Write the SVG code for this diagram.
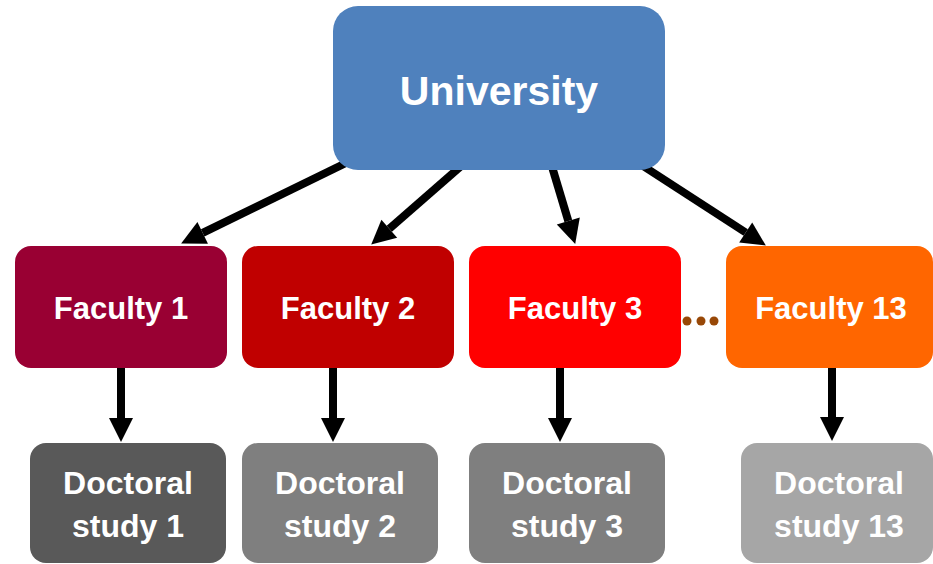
<svg xmlns="http://www.w3.org/2000/svg" width="933" height="564" viewBox="0 0 933 564">
<style>
  .lbl { font-family: "Liberation Sans", Arial, sans-serif; font-weight: bold; fill: #ffffff; text-anchor: middle; }
  .fac { font-size: 31px; }
  .doc { font-size: 32px; }
  .conn line { stroke: #000000; stroke-width: 8; stroke-linecap: butt; fill: none; }
</style>
<defs>
  <marker id="ah" markerUnits="userSpaceOnUse" markerWidth="24" markerHeight="26" refX="0" refY="13" orient="auto" overflow="visible">
    <path d="M0,1 L24,13 L0,25 z" fill="#000000"/>
  </marker>
</defs>
<rect x="0" y="0" width="933" height="564" fill="#ffffff"/>
<g id="connectors" class="conn">
  <line x1="350" y1="161" x2="202.7" y2="232.9" marker-end="url(#ah)"/>
  <line x1="460" y1="167" x2="389.3" y2="228.8" marker-end="url(#ah)"/>
  <line x1="550" y1="160" x2="568.3" y2="221" marker-end="url(#ah)"/>
  <line x1="640" y1="164" x2="745.7" y2="232.5" marker-end="url(#ah)"/>
  <line x1="121" y1="366" x2="121" y2="418" marker-end="url(#ah)"/>
  <line x1="333" y1="366" x2="333" y2="418" marker-end="url(#ah)"/>
  <line x1="560" y1="366" x2="560" y2="418" marker-end="url(#ah)"/>
  <line x1="832" y1="366" x2="832" y2="417" marker-end="url(#ah)"/>
</g>
<g id="university">
  <rect x="333" y="6" width="332" height="164" rx="25" ry="25" fill="#4F81BD"/>
  <text class="lbl" x="499" y="105" font-size="41">University</text>
</g>
<g id="faculty1">
  <rect x="15" y="246" width="212" height="122" rx="16" ry="16" fill="#990033"/>
  <text class="lbl fac" x="121" y="319">Faculty 1</text>
</g>
<g id="faculty2">
  <rect x="242" y="246" width="212" height="122" rx="16" ry="16" fill="#C00000"/>
  <text class="lbl fac" x="348" y="319">Faculty 2</text>
</g>
<g id="faculty3">
  <rect x="469" y="246" width="212" height="122" rx="16" ry="16" fill="#FF0000"/>
  <text class="lbl fac" x="575" y="319">Faculty 3</text>
</g>
<g id="ellipsis">
  <circle cx="687" cy="321" r="4.5" fill="#984807"/>
  <circle cx="701" cy="321" r="4.5" fill="#984807"/>
  <circle cx="714" cy="321" r="4.5" fill="#984807"/>
</g>
<g id="faculty13">
  <rect x="726" y="246" width="207" height="122" rx="16" ry="16" fill="#FF6600"/>
  <text class="lbl fac" x="831" y="319">Faculty 13</text>
</g>
<g id="doctoral1">
  <rect x="30" y="443" width="196" height="120" rx="16" ry="16" fill="#595959"/>
  <text class="lbl doc" x="128" y="494">Doctoral</text>
  <text class="lbl doc" x="128" y="537">study 1</text>
</g>
<g id="doctoral2">
  <rect x="242" y="443" width="196" height="120" rx="16" ry="16" fill="#7F7F7F"/>
  <text class="lbl doc" x="340" y="494">Doctoral</text>
  <text class="lbl doc" x="340" y="537">study 2</text>
</g>
<g id="doctoral3">
  <rect x="469" y="443" width="196" height="120" rx="16" ry="16" fill="#7F7F7F"/>
  <text class="lbl doc" x="567" y="494">Doctoral</text>
  <text class="lbl doc" x="567" y="537">study 3</text>
</g>
<g id="doctoral13">
  <rect x="741" y="443" width="192" height="120" rx="16" ry="16" fill="#A6A6A6"/>
  <text class="lbl doc" x="839" y="494">Doctoral</text>
  <text class="lbl doc" x="839" y="537">study 13</text>
</g>
</svg>
